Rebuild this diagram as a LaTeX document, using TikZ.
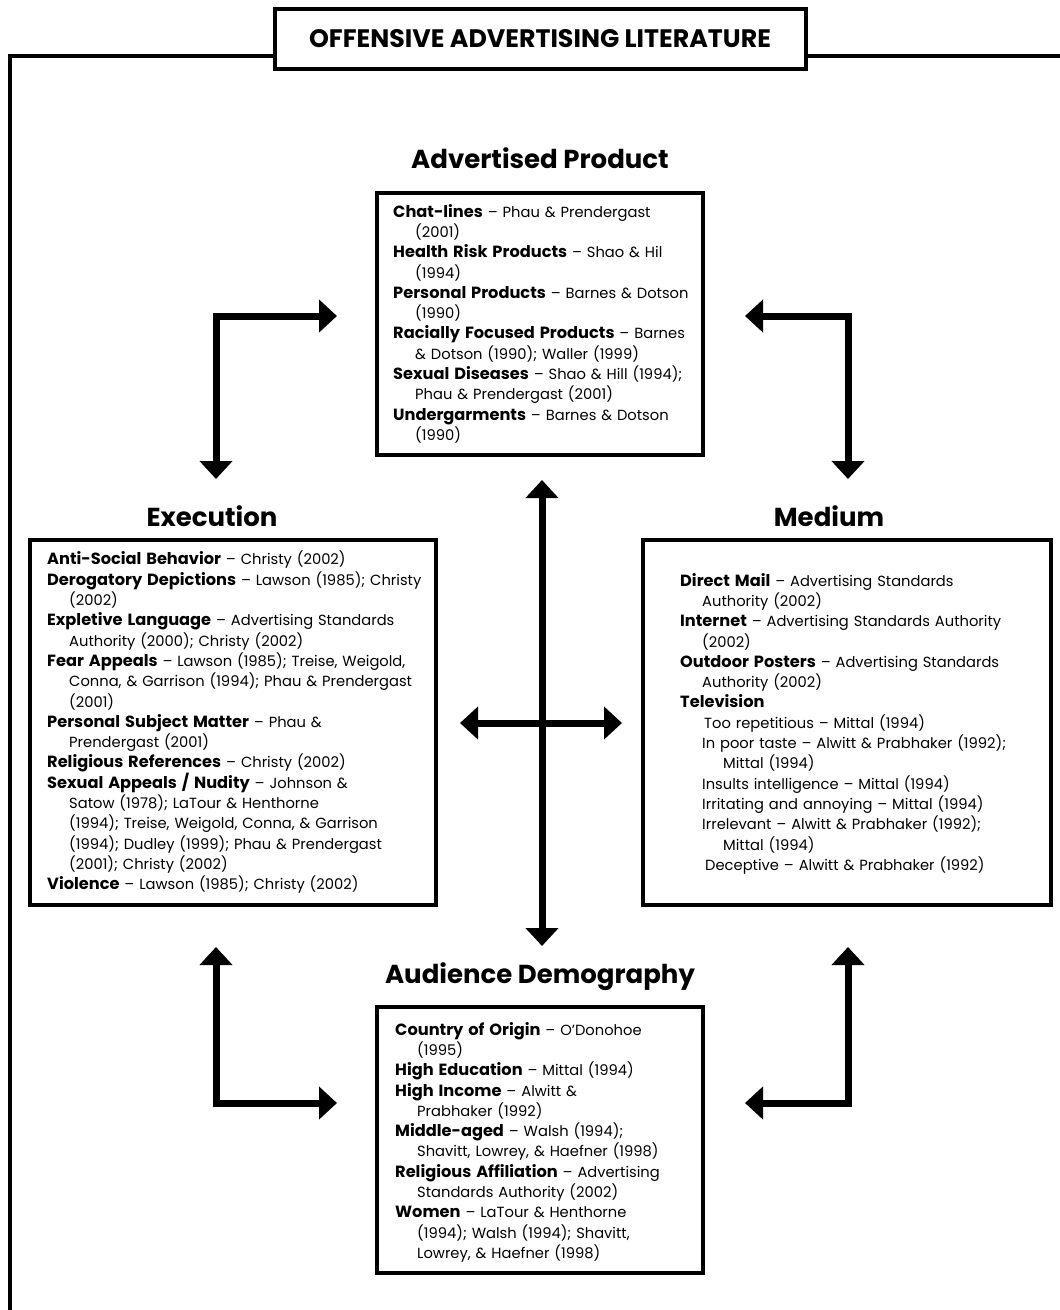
\documentclass[tikz,border=0pt]{standalone}
\usepackage{fontspec}
\setmainfont{Poppins}
\usetikzlibrary{arrows.meta}
\newcommand\bitem[1]{{\fontsize{16.2}{20.3}\selectfont\bfseries #1}}
\newcommand\ind{\hspace*{22pt}}
\newcommand\indd{\hspace*{43pt}}
\begin{document}
\begin{tikzpicture}[x=1pt,y=-1pt,
  frame/.style={line width=4.5pt},
  box/.style={draw, line width=4pt, inner sep=0pt},
  body/.style={anchor=north west, inner sep=0pt, align=left, text width=#1, font=\fontsize{14.7}{20.3}\selectfont},
  head/.style={font=\fontsize{26}{30}\selectfont\bfseries, inner sep=0pt},
  bigarrow/.style={line width=7pt, line join=miter, {Triangle[length=18pt,width=32pt]}-{Triangle[length=18pt,width=32pt]}},
]
\useasboundingbox (0,0) rectangle (1060,1310);

% outer frame
\coordinate (fr1) at (1060,56);
\coordinate (fr2) at (10,56);
\coordinate (fr3) at (10,1310);
\draw[frame] (fr1) -- (fr2) -- (fr3);

\node[draw, line width=4pt, fill=white, minimum width=531pt, minimum height=60pt,
  font=\fontsize{25.3}{28}\selectfont\bfseries] (title) at (540,39) {OFFENSIVE ADVERTISING LITERATURE};

% headings
\node[head] (hprod) at (540,158) {Advertised Product};
\node[head] (hexec) at (212,516) {Execution};
\node[head] (hmed) at (829,516) {Medium};
\node[head] (haud) at (540,977) {Audience Demography};

% boxes
\node[box, minimum width=326pt, minimum height=262pt] (prod) at (540,324) {};
\node[box, minimum width=406pt, minimum height=365pt] (exec) at (233,722.5) {};
\node[box, minimum width=408pt, minimum height=365pt] (med) at (847,722.5) {};
\node[box, minimum width=326pt, minimum height=266pt] (aud) at (540,1140) {};

% texts
\node[body=340pt] (tprod) at (393,204) {%
\bitem{Chat-lines} -- Phau \& Prendergast\\
\ind(2001)\\
\bitem{Health Risk Products} -- Shao \& Hil\\
\ind(1994)\\
\bitem{Personal Products} -- Barnes \& Dotson\\
\ind(1990)\\
\bitem{Racially Focused Products} -- Barnes\\
\ind\& Dotson (1990); Waller (1999)\\
\bitem{Sexual Diseases} -- Shao \& Hill (1994);\\
\ind Phau \& Prendergast (2001)\\
\bitem{Undergarments} -- Barnes \& Dotson\\
\ind(1990)};

\node[body=420pt] (texec) at (47,551) {%
\bitem{Anti-Social Behavior} -- Christy (2002)\\
\bitem{Derogatory Depictions} -- Lawson (1985); Christy\\
\ind(2002)\\
\bitem{Expletive Language} -- Advertising Standards\\
\ind Authority (2000); Christy (2002)\\
\bitem{Fear Appeals} -- Lawson (1985); Treise, Weigold,\\
\ind Conna, \& Garrison (1994); Phau \& Prendergast\\
\ind(2001)\\
\bitem{Personal Subject Matter} -- Phau \&\\
\ind Prendergast (2001)\\
\bitem{Religious References} -- Christy (2002)\\
\bitem{Sexual Appeals / Nudity} -- Johnson \&\\
\ind Satow (1978); LaTour \& Henthorne\\
\ind(1994); Treise, Weigold, Conna, \& Garrison\\
\ind(1994); Dudley (1999); Phau \& Prendergast\\
\ind(2001); Christy (2002)\\
\bitem{Violence} -- Lawson (1985); Christy (2002)};

\node[body=400pt] (tmed) at (680,573) {%
\bitem{Direct Mail} -- Advertising Standards\\
\ind Authority (2002)\\
\bitem{Internet} -- Advertising Standards Authority\\
\ind(2002)\\
\bitem{Outdoor Posters} -- Advertising Standards\\
\ind Authority (2002)\\
\bitem{Television}\\
\hspace*{24pt}Too repetitious -- Mittal (1994)\\
\ind In poor taste -- Alwitt \& Prabhaker (1992);\\
\indd Mittal (1994)\\
\ind Insults intelligence -- Mittal (1994)\\
\ind Irritating and annoying -- Mittal (1994)\\
\ind Irrelevant -- Alwitt \& Prabhaker (1992);\\
\indd Mittal (1994)\\
\hspace*{25pt}Deceptive -- Alwitt \& Prabhaker (1992)};

\node[body=340pt] (taud) at (395,1022) {%
\bitem{Country of Origin} -- O'Donohoe\\
\ind(1995)\\
\bitem{High Education} -- Mittal (1994)\\
\bitem{High Income} -- Alwitt \&\\
\ind Prabhaker (1992)\\
\bitem{Middle-aged} -- Walsh (1994);\\
\ind Shavitt, Lowrey, \& Haefner (1998)\\
\bitem{Religious Affiliation} -- Advertising\\
\ind Standards Authority (2002)\\
\bitem{Women} -- LaTour \& Henthorne\\
\ind(1994); Walsh (1994); Shavitt,\\
\ind Lowrey, \& Haefner (1998)};

% arrows
\coordinate (vt) at (542,480);
\coordinate (vb) at (542,946);
\coordinate (hl) at (460,723);
\coordinate (hr) at (622,723);
\draw[bigarrow] (vt) -- (vb);
\draw[bigarrow] (hl) -- (hr);

\coordinate (tl1) at (216,479);
\coordinate (tl2) at (216,316);
\coordinate (tl3) at (337,316);
\draw[bigarrow] (tl1) -- (tl2) -- (tl3);

\coordinate (tr1) at (745,316);
\coordinate (tr2) at (848,316);
\coordinate (tr3) at (848,479);
\draw[bigarrow] (tr1) -- (tr2) -- (tr3);

\coordinate (bl1) at (216,947);
\coordinate (bl2) at (216,1103);
\coordinate (bl3) at (337,1103);
\draw[bigarrow] (bl1) -- (bl2) -- (bl3);

\coordinate (br1) at (848,947);
\coordinate (br2) at (848,1103);
\coordinate (br3) at (745,1103);
\draw[bigarrow] (br1) -- (br2) -- (br3);
\end{tikzpicture}
\end{document}
